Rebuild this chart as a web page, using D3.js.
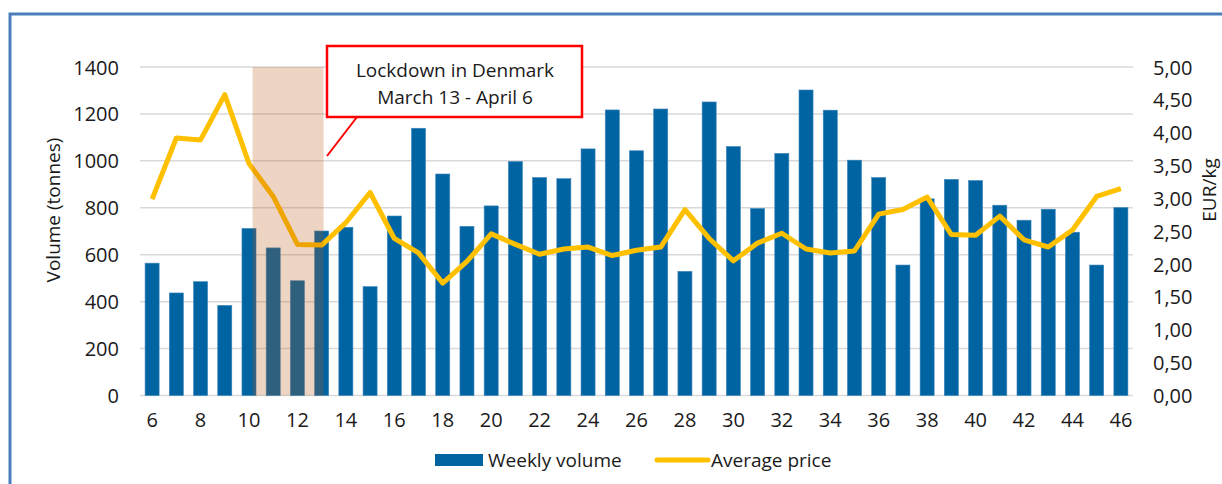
<!DOCTYPE html>
<html>
<head>
<meta charset="utf-8">
<script src="https://cdn.jsdelivr.net/npm/d3@7"></script>
<style>
  html, body { margin: 0; padding: 0; background: #fff; }
  svg { display: block; font-family: "Open Sans", "DejaVu Sans", sans-serif; }
  .tick text { fill: #1a1a1a; }
</style>
</head>
<body>
<svg id="chart" width="1222" height="484"></svg>
<script>
// Weekly landings volume (tonnes) and average first-sale price (EUR/kg), weeks 6–46
const weeks = d3.range(6, 47);
const weeklyVolume = [
  564, 437, 485, 384, 712, 629, 489, 701, 717, 464,
  765, 1139, 944, 721, 808, 997, 929, 924, 1051, 1217,
  1043, 1221, 529, 1251, 1061, 797, 1032, 1302, 1216, 1003,
  929, 556, 838, 921, 916, 811, 747, 794, 696, 556, 801
];
const averagePrice = [
  2.99, 3.92, 3.89, 4.58, 3.53, 3.03, 2.30, 2.29, 2.63, 3.09,
  2.39, 2.17, 1.71, 2.04, 2.46, 2.30, 2.15, 2.23, 2.26, 2.13,
  2.21, 2.26, 2.83, 2.39, 2.05, 2.32, 2.47, 2.23, 2.17, 2.20,
  2.76, 2.83, 3.02, 2.45, 2.44, 2.73, 2.37, 2.26, 2.52, 3.03, 3.15
];
const volumeTicks = [0, 200, 400, 600, 800, 1000, 1200, 1400];
const priceTicks = [0, 0.5, 1, 1.5, 2, 2.5, 3, 3.5, 4, 4.5, 5];
const weekTicks = weeks.filter(w => w % 2 === 0);
// Lockdown period expressed in week units
const lockdownWeeks = [10.15, 13.08];
const annotationLines = ["Lockdown in Denmark", "March 13 - April 6"];
const seriesNames = ["Weekly volume", "Average price"];

const svg = d3.select("#chart");
const plotLeft = 140, plotRight = 1133, plotTop = 67, plotBottom = 395.5;

const x = d3.scaleBand().domain(weeks).range([plotLeft, plotRight])
  .paddingInner(0.42).paddingOuter(0.21);
const xc = w => x(w) + x.bandwidth() / 2;
const xLin = d3.scaleLinear().domain([6, 46]).range([xc(6), xc(46)]);
const yVol = d3.scaleLinear().domain([0, 1400]).range([plotBottom, plotTop]);
const yPrice = d3.scaleLinear().domain([0, 5]).range([plotBottom, plotTop]);

const commaLocale = d3.formatLocale({ decimal: ",", thousands: ".", grouping: [3], currency: ["", "€"] });
const fmtPrice = commaLocale.format(".2f");
const fmtVolume = d3.format("d");

// Outer frame
svg.append("rect")
  .attr("x", 10).attr("y", 14).attr("width", 1400).attr("height", 700)
  .attr("fill", "none").attr("stroke", "#4a7ebb").attr("stroke-width", 3);

// Horizontal gridlines
svg.append("g").selectAll("line").data(volumeTicks).join("line")
  .attr("x1", plotLeft).attr("x2", plotRight)
  .attr("y1", d => yVol(d)).attr("y2", d => yVol(d))
  .attr("stroke", "#d9d9d9").attr("stroke-width", 1.5);

// Volume bars
svg.append("g").selectAll("rect").data(weeks).join("rect")
  .attr("x", w => x(w))
  .attr("width", x.bandwidth())
  .attr("y", (w, i) => yVol(weeklyVolume[i]))
  .attr("height", (w, i) => yVol(0) - yVol(weeklyVolume[i]))
  .attr("fill", "#0064a3")
  .attr("stroke", "#3d86bb").attr("stroke-width", 0.6);

// Price line
const priceLine = d3.line().x((d, i) => xc(weeks[i])).y(d => yPrice(d));
svg.append("path").datum(averagePrice)
  .attr("d", priceLine)
  .attr("fill", "none").attr("stroke", "#ffc000")
  .attr("stroke-width", 5).attr("stroke-linejoin", "round");

// Lockdown shading
svg.append("rect")
  .attr("x", xLin(lockdownWeeks[0]))
  .attr("width", xLin(lockdownWeeks[1]) - xLin(lockdownWeeks[0]))
  .attr("y", yVol(1400)).attr("height", yVol(0) - yVol(1400))
  .attr("fill", "#bd520c").attr("fill-opacity", 0.25);

// Annotation callout
svg.append("line")
  .attr("x1", 357).attr("y1", 117).attr("x2", 327).attr("y2", 156)
  .attr("stroke", "#ff0000").attr("stroke-width", 2);
svg.append("rect")
  .attr("x", 327).attr("y", 46).attr("width", 255).attr("height", 71)
  .attr("fill", "#fff").attr("stroke", "#ff0000").attr("stroke-width", 2.5);
svg.append("g").selectAll("text").data(annotationLines).join("text")
  .attr("x", 455).attr("y", (d, i) => 77 + i * 27)
  .attr("text-anchor", "middle").attr("font-size", 19).attr("fill", "#1a1a1a")
  .text(d => d);

// Axes
const axisL = svg.append("g").attr("transform", `translate(${plotLeft - 21},0)`)
  .call(d3.axisLeft(yVol).tickValues(volumeTicks).tickSize(0).tickPadding(0).tickFormat(fmtVolume));
const axisR = svg.append("g").attr("transform", `translate(1153,0)`)
  .call(d3.axisRight(yPrice).tickValues(priceTicks).tickSize(0).tickPadding(0).tickFormat(fmtPrice));
const axisB = svg.append("g").attr("transform", `translate(0,${plotBottom + 17})`)
  .call(d3.axisBottom(x).tickValues(weekTicks).tickSize(0).tickPadding(0));
[axisL, axisR, axisB].forEach(g => {
  g.select(".domain").remove();
  g.selectAll("text").attr("font-size", 20).attr("font-family", "'Open Sans', sans-serif").attr("fill", "#1a1a1a");
});
axisL.selectAll("text").attr("dy", "0.35em");
axisR.selectAll("text").attr("dy", "0.35em");

// Axis titles
svg.append("text")
  .attr("transform", "translate(60,210) rotate(-90)")
  .attr("text-anchor", "middle").attr("font-size", 19).attr("fill", "#1a1a1a")
  .text("Volume (tonnes)");
svg.append("text")
  .attr("transform", "translate(1216,190) rotate(-90)")
  .attr("text-anchor", "middle").attr("font-size", 19).attr("fill", "#1a1a1a")
  .text("EUR/kg");

// Legend
const legend = svg.append("g");
legend.append("rect").attr("x", 435).attr("y", 454).attr("width", 48).attr("height", 12).attr("fill", "#0064a3");
legend.append("text").attr("x", 488).attr("y", 467).attr("font-size", 19).attr("fill", "#1a1a1a").text(seriesNames[0]);
legend.append("line").attr("x1", 657).attr("x2", 708).attr("y1", 460).attr("y2", 460)
  .attr("stroke", "#ffc000").attr("stroke-width", 5).attr("stroke-linecap", "round");
legend.append("text").attr("x", 711).attr("y", 467).attr("font-size", 19).attr("fill", "#1a1a1a").text(seriesNames[1]);
</script>
</body>
</html>
